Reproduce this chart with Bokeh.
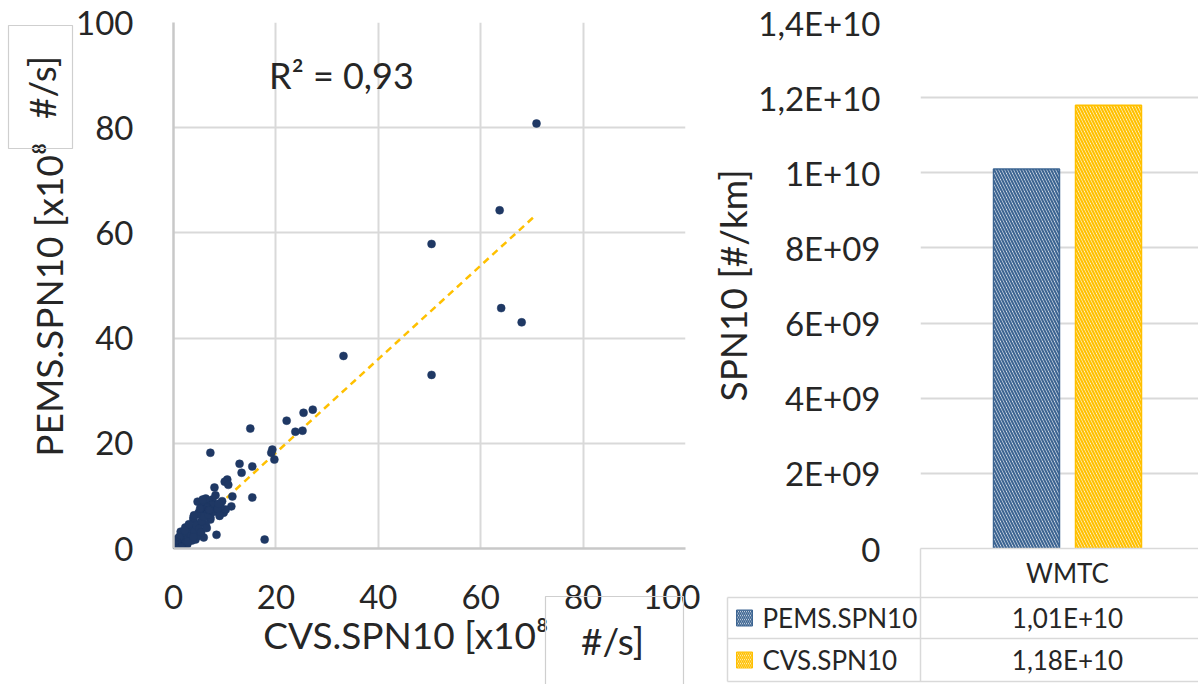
import math
from bokeh.plotting import figure
from bokeh.models import Range1d, FixedTicker, Label, ColumnDataSource, GridBox
from bokeh.embed import file_html
from bokeh.resources import INLINE
from bokeh.core.properties import value
from bokeh.transform import dodge

# ---------------- data ----------------
cvs_spn10 = [70.9, 63.7, 50.4, 64.0, 68.0, 50.4, 33.2,
             27.2, 25.4, 22.1, 25.2, 23.8, 15.0,
             19.3, 19.1, 19.7, 7.2, 12.9, 15.4, 13.3,
             10.5, 10.0, 10.7, 8.0, 11.5, 15.4, 7.6, 8.2, 17.8, 8.4,
             11.3, 9.8, 10.2, 9.2, 6.3, 7.6, 5.9, 6.6, 5.7, 6.6, 4.9, 4.9,
             7.2, 7.2, 3.9, 3.9, 5.3, 6.3, 6.3, 4.7, 5.7, 2.3, 1.4, 3.3,
             4.9, 4.3, 5.9, 0.4, 1.8, 0.0, 0.8, 2.7,
             0.1, 0.2, 0.3, 0.5, 0.6, 0.9, 1.0, 1.2, 1.3, 1.6, 1.7, 2.0,
             2.1, 2.4, 2.6, 2.9, 3.1, 3.4, 3.6, 3.8, 4.1, 4.4, 4.6, 5.0,
             5.5, 6.0, 6.8, 7.9, 8.6, 9.0, 3.0, 2.2, 1.1, 0.7, 4.0, 5.2,
             9.5, 8.8, 7.0, 0.3, 1.5, 2.8, 3.9, 5.4, 6.5, 0.2, 0.4]
pems_spn10 = [80.8, 64.3, 57.9, 45.7, 43.0, 33.0, 36.6,
              26.4, 25.8, 24.3, 22.4, 22.2, 22.8,
              18.8, 18.2, 16.9, 18.2, 16.1, 15.6, 14.4,
              13.1, 12.7, 12.1, 11.6, 9.9, 9.7, 9.3, 10.1, 1.7, 2.6,
              8.0, 6.8, 7.4, 8.0, 8.7, 8.3, 8.3, 7.8, 7.4, 6.8, 6.8, 6.5,
              5.9, 5.5, 5.9, 5.5, 4.9, 4.6, 9.5, 8.9, 9.3, 4.0, 3.2, 3.0,
              2.7, 1.7, 2.1, 1.7, 1.1, 0.8, 0.2, 0.8,
              0.1, 0.4, 0.2, 0.6, 0.3, 0.9, 0.5, 1.4, 0.7, 1.9, 0.9, 2.4,
              1.5, 1.2, 2.8, 2.0, 3.6, 2.4, 1.5, 3.9, 3.3, 4.4, 2.3, 3.8,
              5.2, 6.0, 6.4, 7.0, 7.5, 6.2, 4.6, 3.4, 2.2, 1.2, 6.3, 7.6,
              9.0, 8.5, 7.3, 0.9, 0.3, 1.3, 2.2, 3.1, 3.9, 0.0, 0.1]
trend_slope = 0.89
trend_intercept = 0.4
r2_text = "R\u00b2 = 0,93"
scatter_ticks = [0, 20, 40, 60, 80, 100]
scatter_xlabel = "CVS.SPN10  [x10\u2078"
scatter_ylabel = "PEMS.SPN10 [x10\u2078"
unit_text = "#/s]"

bar_cycle = ["WMTC"]
bar_series = ["PEMS.SPN10", "CVS.SPN10"]
bar_values = [1.01e10, 1.18e10]
bar_ticks = [0.0, 2e9, 4e9, 6e9, 8e9, 1e10, 1.2e10, 1.4e10]
bar_ylabel = "SPN10 [#/km]"

# ---------------- style ----------------
FONT = "Lato"
TXT = "#262626"
GRID = "#d9d9d9"
BOX = "#cfcfcf"
AXIS = "#c8c8c8"
DOT = "#1f3864"
TREND = "#ffc000"
bar_colors = ["#3d6592", "#ffc000"]
TICK_FS = "33px"
TITLE_FS = "37px"
NB = "\u00a0"
W, H = 1198, 684


def excel_sci(v):
    if v == 0:
        return "0"
    e = int(math.floor(math.log10(abs(v))))
    m = v / 10 ** e
    ms = ("%.2f" % m).rstrip("0").rstrip(".").replace(".", ",")
    return "%sE+%02d" % (ms, e)


# ---------------- scatter ----------------
ps = figure(width=700, height=H, x_range=Range1d(0, 100), y_range=Range1d(0, 100),
            output_backend="svg", toolbar_location=None,
            min_border_left=173, min_border_right=15, min_border_top=22, min_border_bottom=135)
ps.outline_line_color = None
for ax in (ps.xaxis[0], ps.yaxis[0]):
    ax.ticker = FixedTicker(ticks=scatter_ticks)
    ax.major_tick_line_color = None
    ax.minor_tick_line_color = None
    ax.major_tick_out = 0
    ax.major_tick_in = 0
    ax.axis_line_color = AXIS
    ax.axis_line_width = 2.5
    ax.major_label_text_font = FONT
    ax.major_label_text_font_size = TICK_FS
    ax.major_label_text_color = TXT
    ax.axis_label_text_font = FONT
    ax.axis_label_text_font_size = TITLE_FS
    ax.axis_label_text_font_style = "normal"
    ax.axis_label_text_color = TXT
ps.xaxis.major_label_standoff = 36
ps.yaxis.major_label_standoff = 40
ps.xaxis.axis_label = scatter_xlabel + NB * 4
ps.yaxis.axis_label = scatter_ylabel + NB * 3
ps.xaxis.axis_label_standoff = 0
ps.yaxis.axis_label_standoff = 2
ps.grid.grid_line_color = GRID
ps.grid.grid_line_width = 2

x_end = max(cvs_spn10)
ps.line(x=[0, x_end], y=[trend_intercept, trend_intercept + trend_slope * x_end],
        line_color=TREND, line_width=2.5, line_dash="7 5")
ps.scatter(x=cvs_spn10, y=pems_spn10, size=8, fill_color=DOT, line_color=DOT, line_width=0.5)
ps.add_layout(Label(x=32.8, y=90, text=r2_text, text_font=FONT, text_font_size="36px",
                    text_color=TXT, text_align="center", text_baseline="middle"))

# ---------------- bar chart ----------------
cat_px = 294.0
frame_w = 278.0
pb = figure(width=498, height=H, x_range=Range1d(-0.5, -0.5 + frame_w / cat_px),
            y_range=Range1d(0, 1.4e10), x_axis_location=None,
            output_backend="svg", toolbar_location=None,
            min_border_left=220, min_border_right=0, min_border_top=22, min_border_bottom=136)
pb.outline_line_color = None
pb.xgrid.visible = False
ya = pb.yaxis[0]
ya.ticker = FixedTicker(ticks=bar_ticks)
ya.major_label_overrides = {t: excel_sci(t) for t in bar_ticks}
ya.major_tick_line_color = None
ya.minor_tick_line_color = None
ya.major_tick_out = 0
ya.major_tick_in = 0
ya.axis_line_color = None
ya.major_label_standoff = 40
ya.major_label_text_font = FONT
ya.major_label_text_font_size = TICK_FS
ya.major_label_text_color = TXT
ya.axis_label = bar_ylabel
ya.axis_label_text_font = FONT
ya.axis_label_text_font_size = TITLE_FS
ya.axis_label_text_font_style = "normal"
ya.axis_label_text_color = TXT
ya.axis_label_standoff = 0
pb.ygrid.grid_line_color = GRID
pb.ygrid.grid_line_width = 2

bar_w = 66.0 / cat_px
bar_gap = 16.0 / cat_px
n = len(bar_series)
for i, (name, val, col) in enumerate(zip(bar_series, bar_values, bar_colors)):
    off = (i - (n - 1) / 2.0) * (bar_w + bar_gap)
    src = ColumnDataSource(dict(x=[0.0], top=[val]))
    pb.vbar(x=dodge("x", off, range=pb.x_range), top="top", width=bar_w, source=src,
            fill_color="white", hatch_pattern="\\", hatch_color=col, hatch_scale=6,
            hatch_weight=2.2, line_color=col, line_width=1.5)

# ---------------- overlay: unit boxes and data table ----------------
po = figure(width=W, height=H, x_range=Range1d(0, W), y_range=Range1d(0, H),
            x_axis_location=None, y_axis_location=None,
            output_backend="svg", toolbar_location=None, min_border=0)
po.frame_align = False
po.outline_line_color = None
po.background_fill_color = None
po.border_fill_color = None
po.grid.visible = False


def Y(py):
    return H - py


# unit boxes ("#/s]" text boxes over the axis titles)
po.quad(left=[8, 545], right=[72, 683], top=[Y(25), Y(596)], bottom=[Y(148), Y(H + 10)],
        fill_color=None, line_color=BOX, line_width=1.2)
po.add_layout(Label(x=41, y=Y(87), text=unit_text, angle=math.pi / 2, text_font=FONT,
                    text_font_size=TITLE_FS, text_color=TXT, text_align="center",
                    text_baseline="middle"))
po.add_layout(Label(x=612, y=Y(640), text=unit_text, text_font=FONT,
                    text_font_size=TITLE_FS, text_color=TXT, text_align="center",
                    text_baseline="middle"))

# data table below the bar chart
left_x, split_x, right_x = 727, 920, W
row_y = [548, 597, 638, 681]
po.segment(x0=[split_x, left_x, left_x, left_x, split_x, left_x],
           y0=[Y(row_y[0]), Y(row_y[1]), Y(row_y[2]), Y(row_y[3]), Y(row_y[0]), Y(row_y[1])],
           x1=[right_x, right_x, right_x, right_x, split_x, left_x],
           y1=[Y(row_y[0]), Y(row_y[1]), Y(row_y[2]), Y(row_y[3]), Y(row_y[3]), Y(row_y[3])],
           line_color=GRID, line_width=1.5)
center_x = 1067
mid_y = [Y((row_y[k] + row_y[k + 1]) / 2.0) for k in range(3)]
po.text(x=[center_x], y=[mid_y[0]], text=bar_cycle, text_font=value(FONT), text_font_size="26px",
        text_color=TXT, text_align="center", text_baseline="middle")
po.text(x=[762] * n, y=mid_y[1:], text=bar_series, text_font=value(FONT), text_font_size="26px",
        text_color=TXT, text_align="left", text_baseline="middle")
po.text(x=[center_x] * n, y=mid_y[1:], text=[excel_sci(v) for v in bar_values],
        text_font=value(FONT), text_font_size="26px",
        text_color=TXT, text_align="center", text_baseline="middle")
for yy, col in zip(mid_y[1:], bar_colors):
    po.rect(x=[744], y=[yy], width=16, height=16, fill_color="white", hatch_pattern="\\",
            hatch_color=col, hatch_scale=4, hatch_weight=1.5, line_color=col, line_width=1)

layout = GridBox(children=[(ps, 0, 0), (pb, 0, 1), (po, 0, 0, 1, 2)], spacing=0)
open("out.html", "w").write(file_html(layout, INLINE))
